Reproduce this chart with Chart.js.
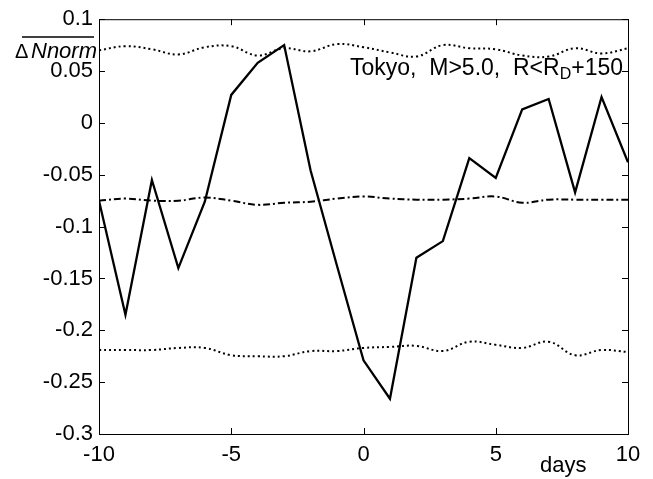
<!DOCTYPE html>
<html>
<head>
<meta charset="utf-8">
<script src="https://cdn.jsdelivr.net/npm/chart.js@4.4.1/dist/chart.umd.min.js"></script>
<style>
  body { margin: 0; background: #fff; }
</style>
</head>
<body>
<canvas id="chart" width="653" height="479"></canvas>
<script>
// days around the event
var days = [-10, -9, -8, -7, -6, -5, -4, -3, -2, -1, 0, 1, 2, 3, 4, 5, 6, 7, 8, 9, 10];

// normalised deviation, solid line
var dNorm = [-0.075, -0.185, -0.055, -0.140, -0.076, 0.027, 0.058, 0.075, -0.046, -0.138,
             -0.229, -0.266, -0.130, -0.114, -0.034, -0.053, 0.013, 0.023, -0.067, 0.025, -0.038];

// upper dotted band
var upperBand = [0.070, 0.074, 0.071, 0.066, 0.073, 0.074, 0.065, 0.072, 0.069, 0.076,
                 0.073, 0.068, 0.064, 0.075, 0.072, 0.071, 0.065, 0.064, 0.072, 0.067, 0.072];

// mean, dash-dot line
var meanLine = [-0.075, -0.073, -0.075, -0.075, -0.072, -0.075, -0.079, -0.077, -0.076, -0.073,
                -0.071, -0.073, -0.074, -0.074, -0.073, -0.071, -0.077, -0.074, -0.074, -0.074, -0.074];

// lower dotted band
var lowerBand = [-0.219, -0.219, -0.219, -0.217, -0.217, -0.224, -0.225, -0.225, -0.220, -0.220,
                 -0.217, -0.216, -0.215, -0.220, -0.211, -0.214, -0.217, -0.211, -0.224, -0.219, -0.221];

var xTicks = [-10, -5, 0, 5, 10];
var yTicks = [-0.3, -0.25, -0.2, -0.15, -0.1, -0.05, 0, 0.05, 0.1];
var yTickLabels = ['-0.3', '-0.25', '-0.2', '-0.15', '-0.1', '-0.05', '0', '0.05', '0.1'];

var FONT = '"Liberation Sans", Arial, sans-serif';

function pts(ys) {
  return days.map((d, i) => ({x: d, y: ys[i]}));
}

// box round the plot with inward ticks on all four sides, plus the texts
var framePlugin = {
  id: 'frame',
  afterDraw(chart) {
    var c = chart.ctx;
    var a = chart.chartArea;
    var xs = chart.scales.x, ys = chart.scales.y;
    c.save();
    c.strokeStyle = '#000';
    c.lineWidth = 1;
    c.strokeRect(a.left + 0.5, a.top + 0.5, a.right - a.left, a.bottom - a.top);
    c.beginPath();
    xTicks.forEach(function (v) {
      var px = Math.round(xs.getPixelForValue(v)) + 0.5;
      c.moveTo(px, a.bottom); c.lineTo(px, a.bottom - 6);
      c.moveTo(px, a.top); c.lineTo(px, a.top + 6);
    });
    yTicks.forEach(function (v) {
      var py = Math.round(ys.getPixelForValue(v)) + 0.5;
      c.moveTo(a.left, py); c.lineTo(a.left + 6, py);
      c.moveTo(a.right, py); c.lineTo(a.right - 6, py);
    });
    c.stroke();

    c.fillStyle = '#000';
    c.textBaseline = 'alphabetic';

    // y label: overline + Delta Nnorm
    c.lineWidth = 1.5;
    c.beginPath();
    c.moveTo(22, 37); c.lineTo(94, 37);
    c.stroke();
    c.font = '20px ' + FONT;
    c.fillText('\u0394', 15, 58);
    c.font = 'italic 22px ' + FONT;
    c.fillText('Nnorm', 31, 58);

    // annotation
    var x = 350, base = 75;
    c.font = '23px ' + FONT;
    var t1 = 'Tokyo,  M>5.0,  R<R';
    c.fillText(t1, x, base);
    x += c.measureText(t1).width;
    c.font = '16px ' + FONT;
    c.fillText('D', x, base + 4);
    x += c.measureText('D').width;
    c.font = '23px ' + FONT;
    c.fillText('+150', x, base);

    // x label
    c.font = '22px ' + FONT;
    c.fillText('days', 540, 472);
    c.restore();
  }
};

new Chart(document.getElementById('chart'), {
  type: 'line',
  data: {
    datasets: [{
      data: pts(upperBand),
      borderColor: '#000',
      borderWidth: 2,
      borderDash: [2, 3],
      tension: 0.4,
      pointRadius: 0
    }, {
      data: pts(meanLine),
      borderColor: '#000',
      borderWidth: 2,
      borderDash: [7, 3, 2, 3],
      tension: 0.4,
      pointRadius: 0
    }, {
      data: pts(lowerBand),
      borderColor: '#000',
      borderWidth: 2,
      borderDash: [2, 3],
      tension: 0.4,
      pointRadius: 0
    }, {
      data: pts(dNorm),
      borderColor: '#000',
      borderWidth: 2.3,
      tension: 0,
      pointRadius: 0
    }]
  },
  options: {
    responsive: false,
    animation: false,
    devicePixelRatio: 1,
    layout: {
      padding: {top: 18, right: 25, left: 0, bottom: 0}
    },
    scales: {
      x: {
        type: 'linear',
        min: -10,
        max: 10,
        afterBuildTicks: function (scale) {
          scale.ticks = xTicks.map(v => ({value: v}));
        },
        afterFit: function (scale) {
          scale.height = 45;
        },
        ticks: {
          padding: 8,
          color: '#000',
          font: {family: FONT, size: 22},
          maxRotation: 0,
          autoSkip: false,
          callback: v => String(v)
        },
        grid: {display: false, drawTicks: false},
        border: {display: false}
      },
      y: {
        min: -0.3,
        max: 0.1,
        afterBuildTicks: function (scale) {
          scale.ticks = yTicks.map(v => ({value: v}));
        },
        afterFit: function (scale) {
          scale.width = 99;
        },
        ticks: {
          padding: 6,
          color: '#000',
          font: {family: FONT, size: 22},
          autoSkip: false,
          callback: function (v) {
            var i = yTicks.findIndex(t => Math.abs(t - v) < 1e-9);
            return i >= 0 ? yTickLabels[i] : '';
          }
        },
        grid: {display: false, drawTicks: false},
        border: {display: false}
      }
    },
    plugins: {
      legend: {display: false},
      tooltip: {enabled: false}
    }
  },
  plugins: [framePlugin]
});
</script>
</body>
</html>
